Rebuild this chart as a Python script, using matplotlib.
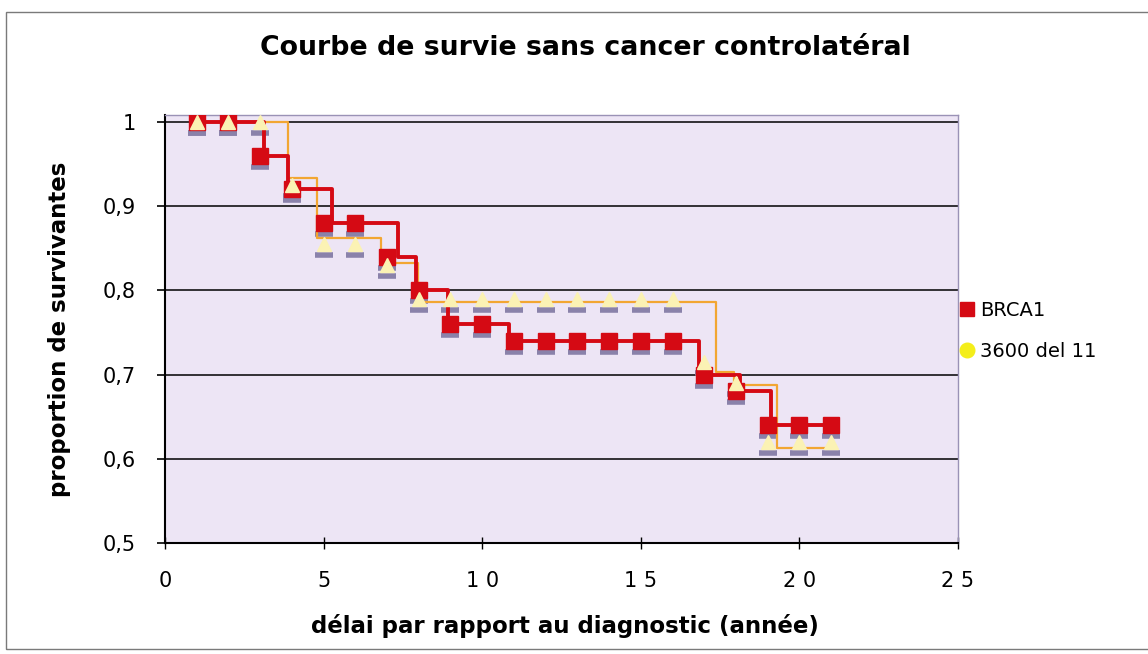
import matplotlib
matplotlib.use('Agg')
import matplotlib.pyplot as plt
from matplotlib import transforms
from matplotlib.lines import Line2D
from matplotlib.patches import Rectangle

# marker values at each year
years = list(range(1, 22))
brca1_pts = [1.0, 1.0, 0.96, 0.92, 0.88, 0.88, 0.84, 0.80, 0.76, 0.76, 0.74,
             0.74, 0.74, 0.74, 0.74, 0.74, 0.70, 0.68, 0.64, 0.64, 0.64]
del11_pts = [1.0, 1.0, 1.0, 0.925, 0.855, 0.855, 0.83, 0.79, 0.79, 0.79, 0.79,
             0.79, 0.79, 0.79, 0.79, 0.79, 0.715, 0.69, 0.62, 0.62, 0.62]

# step curves (event times)
brca1_t = [1, 3.12, 3.89, 5.28, 7.35, 7.92, 8.92, 10.86, 16.83, 18.14, 19.09, 21.07]
brca1_s = [1.0, 0.96, 0.92, 0.88, 0.84, 0.80, 0.76, 0.74, 0.70, 0.68, 0.64, 0.64]
del11_t = [1, 3.89, 4.78, 6.82, 7.98, 17.36, 17.95, 19.3, 21.07]
del11_s = [1.0, 0.933, 0.862, 0.832, 0.786, 0.703, 0.687, 0.613, 0.613]

xticks = [0, 5, 10, 15, 20, 25]
xlabels = ['0', '5', '1 0', '1 5', '2 0', '2 5']
yticks = [0.5, 0.6, 0.7, 0.8, 0.9, 1.0]
ylabels = ['0,5', '0,6', '0,7', '0,8', '0,9', '1']

red = '#d50a14'
orange = '#f2a632'
cream = '#fbf2b4'
shadow = '#8a82aa'

fig = plt.figure(figsize=(11.48, 6.54), dpi=100)
fig.patch.set_facecolor('white')
ax = fig.add_axes([0.1437, 0.1697, 0.6908, 0.6543])
ax.set_facecolor('#ede5f5')

# thin frame around the whole chart
fig.add_artist(Rectangle((0.005, 0.008), 1.2, 0.973, transform=fig.transFigure,
                         fill=False, edgecolor='#7a7a7a', lw=1.0))

for y in yticks[1:]:
    ax.axhline(y, color='black', lw=1.1, zorder=1)

# marker shadows
sh = transforms.offset_copy(ax.transData, fig=fig, x=0, y=-11, units='dots')
ax.plot(years, brca1_pts, ls='none', marker='_', ms=13, mew=4, color=shadow,
        transform=sh, zorder=2)
ax.plot(years, del11_pts, ls='none', marker='_', ms=13, mew=4, color=shadow,
        transform=sh, zorder=2)

ax.plot(del11_t, del11_s, drawstyle='steps-post', color=orange, lw=1.6, zorder=3)
ax.plot(brca1_t, brca1_s, drawstyle='steps-post', color=red, lw=2.8, zorder=4)
ax.plot(years, brca1_pts, ls='none', marker='s', ms=11.5, color=red, mec=red, zorder=5)
ax.plot(years, del11_pts, ls='none', marker='^', ms=10.5, color=cream, mec=cream, zorder=6)

ax.set_xlim(0, 25)
ax.set_ylim(0.5, 1.008)
ax.set_xticks(xticks)
ax.set_xticklabels(xlabels)
ax.set_yticks(yticks)
ax.set_yticklabels(ylabels)
ax.tick_params(axis='y', direction='out', length=6, width=1.2, labelsize=15, pad=15)
ax.tick_params(axis='x', direction='inout', length=8, width=1.0, labelsize=15, pad=16)

for side in ['left', 'bottom']:
    ax.spines[side].set_color('black')
    ax.spines[side].set_linewidth(1.5)
for side in ['top', 'right']:
    ax.spines[side].set_color('#9a92b6')
    ax.spines[side].set_linewidth(1.0)

fig.text(0.5096, 0.926, 'Courbe de survie sans cancer controlatéral',
         fontsize=19.3, fontweight='bold', ha='center', va='center')
ax.set_xlabel('délai par rapport au diagnostic (année)', fontsize=16.5,
              fontweight='bold')
ax.xaxis.set_label_coords(0.504, -0.165)
ax.set_ylabel('proportion de survivantes', fontsize=16.5, fontweight='bold')
ax.yaxis.set_label_coords(-0.118, 0.5)

handles = [Line2D([], [], ls='none', marker='s', ms=9.5, color=red),
           Line2D([], [], ls='none', marker='o', ms=10.5, color='#f4ee1a')]
fig.legend(handles, ['BRCA1', '3600 del 11'], loc='center left',
           bbox_to_anchor=(0.819, 0.494), frameon=False, fontsize=14,
           handlelength=1.0, handletextpad=0.15, labelspacing=1.1)

fig.savefig('out.png', dpi=100)
